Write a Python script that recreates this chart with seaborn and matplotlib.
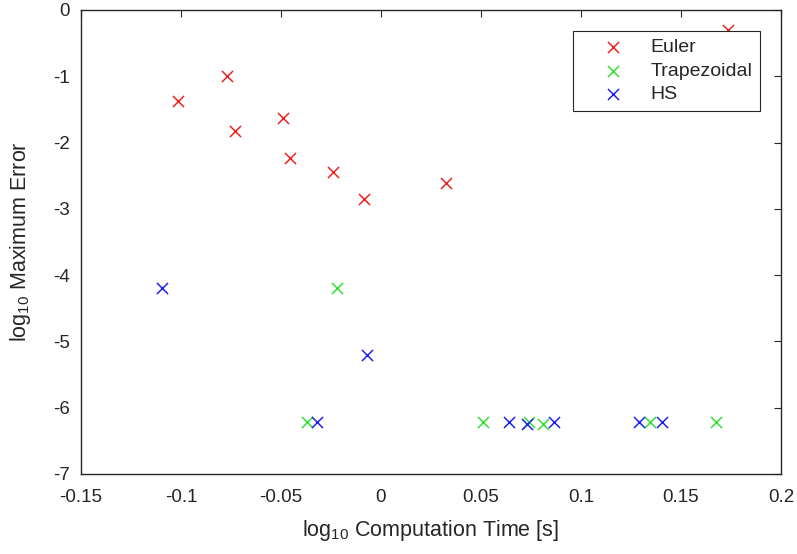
import numpy as np
import pandas as pd
import matplotlib
matplotlib.use("Agg")
import matplotlib.pyplot as plt
import seaborn as sns

# ---- data ----
euler_time = [-0.1014, -0.0772, -0.0732, -0.0492, -0.0457, -0.0242, -0.0085, 0.0325, 0.1737]
euler_err = [-1.37, -0.995, -1.825, -1.63, -2.24, -2.44, -2.85, -2.61, -0.30]

trap_time = [-0.0222, -0.0372, 0.0512, 0.0742, 0.0812, 0.1345, 0.1675]
trap_err = [-4.20, -6.22, -6.22, -6.22, -6.24, -6.22, -6.22]

hs_time = [-0.1097, -0.0072, -0.0318, 0.0642, 0.0732, 0.0865, 0.1292, 0.1405]
hs_err = [-4.20, -5.20, -6.22, -6.22, -6.24, -6.22, -6.22, -6.22]

methods = ["Euler", "Trapezoidal", "HS"]
xtick_vals = [-0.15, -0.1, -0.05, 0, 0.05, 0.1, 0.15, 0.2]
xtick_labels = ["-0.15", "-0.1", "-0.05", "0", "0.05", "0.1", "0.15", "0.2"]
ytick_vals = [-7, -6, -5, -4, -3, -2, -1, 0]
ytick_labels = ["-7", "-6", "-5", "-4", "-3", "-2", "-1", "0"]

colors = {"Euler": "#ee2222", "Trapezoidal": "#33e033", "HS": "#2222ee"}

sns.set_theme(style="white")
plt.rcParams["font.family"] = ["Liberation Sans", "DejaVu Sans"]
plt.rcParams["mathtext.fontset"] = "custom"
plt.rcParams["mathtext.rm"] = "Liberation Sans"
plt.rcParams["mathtext.it"] = "Liberation Sans"
plt.rcParams["axes.unicode_minus"] = False

txt = "#262626"

fig = plt.figure(figsize=(7.97, 5.54), dpi=100)
ax = fig.add_axes([81 / 797, 80 / 554, 700 / 797, 464 / 554])

series = {
    "Euler": (euler_time, euler_err),
    "Trapezoidal": (trap_time, trap_err),
    "HS": (hs_time, hs_err),
}
for m in methods:
    t, e = series[m]
    d = pd.DataFrame({"time": t, "error": e})
    sns.scatterplot(data=d, x="time", y="error", marker="x", color=colors[m],
                    s=64, linewidth=1.1, ax=ax, label=m, legend=False, zorder=3)

ax.set_xlim(-0.15, 0.2)
ax.set_ylim(-7, 0)
ax.set_xticks(xtick_vals)
ax.set_xticklabels(xtick_labels)
ax.set_yticks(ytick_vals)
ax.set_yticklabels(ytick_labels)

ax.tick_params(axis="both", direction="in", length=5, width=0.8, colors=txt,
               labelsize=13.5, top=True, right=True, labelcolor=txt)
ax.tick_params(axis="x", pad=11)
ax.tick_params(axis="y", pad=8)
for sp in ax.spines.values():
    sp.set_color(txt)
    sp.set_linewidth(1.0)

ax.set_xlabel(r"log$_{10}$ Computation Time [s]", fontsize=15.5, color=txt)
ax.set_ylabel(r"log$_{10}$ Maximum Error", fontsize=15.5, color=txt)
ax.xaxis.set_label_coords(0.5, -0.095)
ax.yaxis.set_label_coords(-0.069, 0.5)

handles, labels = ax.get_legend_handles_labels()
leg = ax.legend(handles, labels, loc="upper right", bbox_to_anchor=(0.970, 0.955),
                borderaxespad=0, frameon=True, fancybox=False, edgecolor=txt,
                framealpha=1, handlelength=3.4, handletextpad=0.2, borderpad=0.4,
                labelspacing=0.3, fontsize=14, scatterpoints=1)
leg.get_frame().set_linewidth(0.8)
for t in leg.get_texts():
    t.set_color(txt)

fig.savefig("out.png", dpi=100)
